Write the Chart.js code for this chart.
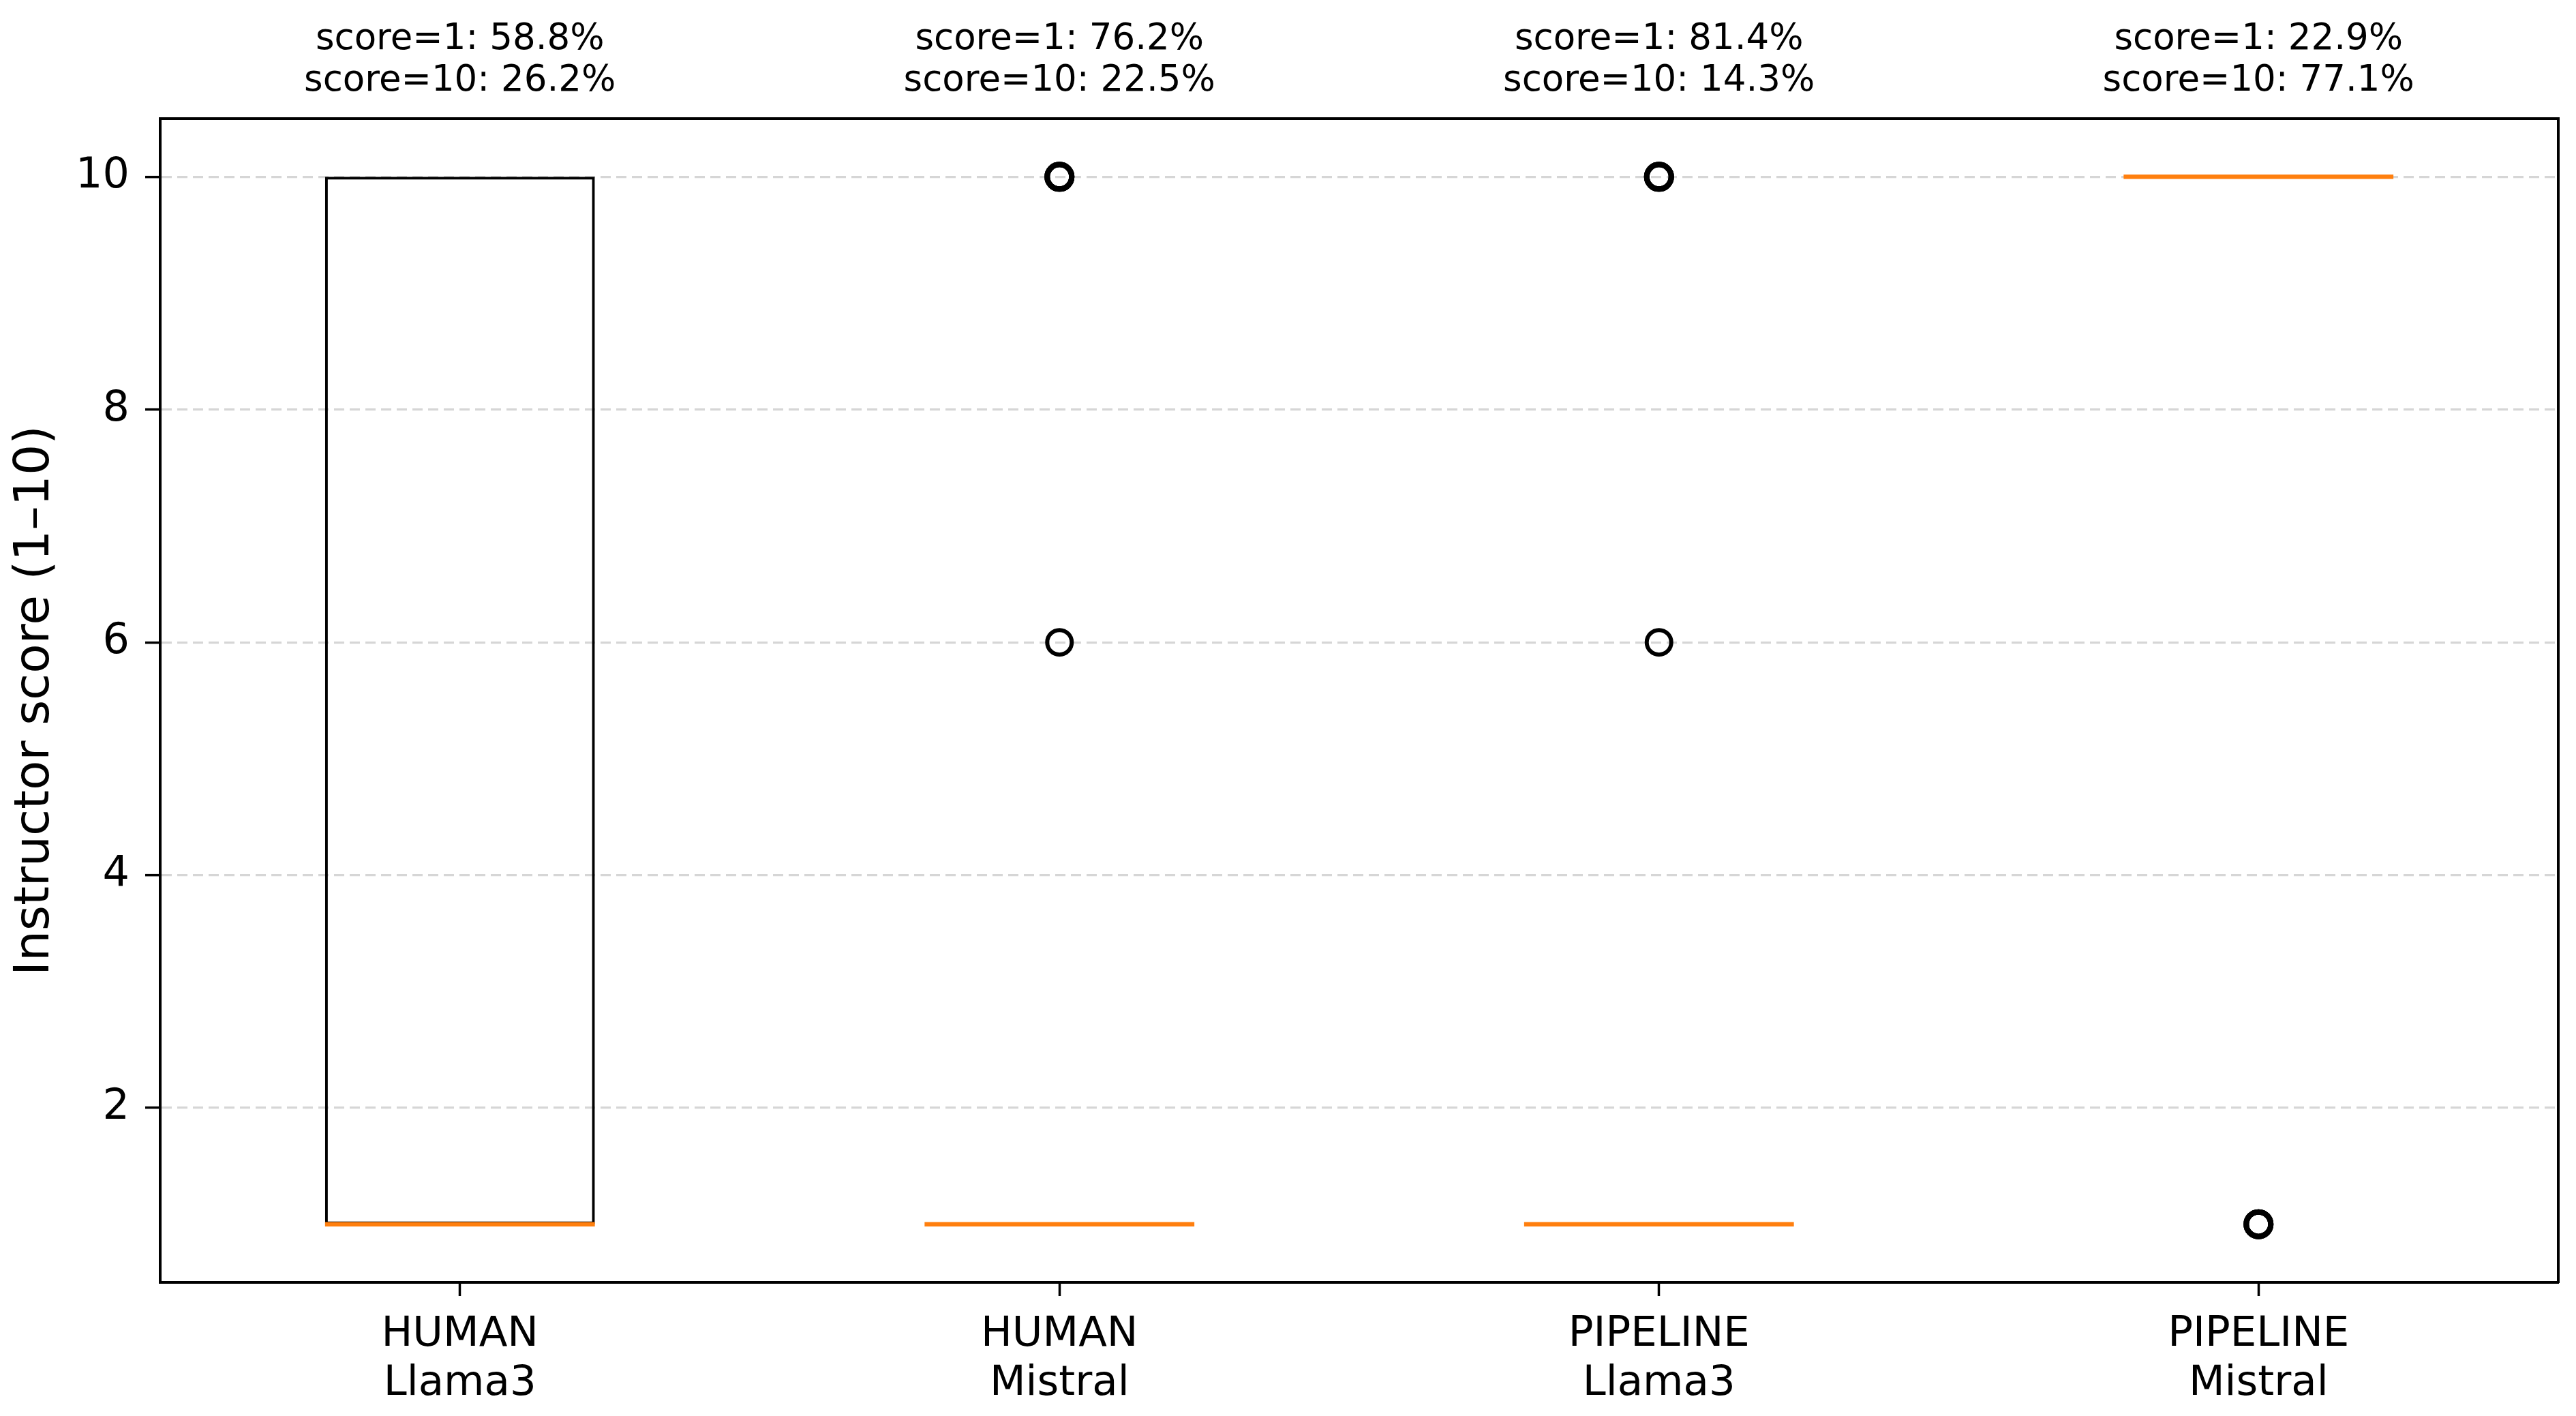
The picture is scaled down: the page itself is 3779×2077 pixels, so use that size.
<!DOCTYPE html>
<html>
<head>
<meta charset="utf-8">
<title>Instructor score</title>
<script src="https://cdn.jsdelivr.net/npm/chart.js@4.4.1/dist/chart.umd.min.js"></script>
<style>
  html, body { margin: 0; padding: 0; background: #fff; }
  canvas { display: block; }
</style>
</head>
<body>
<canvas id="scoreChart" width="3779" height="2077"></canvas>
<script>
// box plot stats per group
const groups = ['HUMAN Llama3', 'HUMAN Mistral', 'PIPELINE Llama3', 'PIPELINE Mistral'];
const q1 = [1, 1, 1, 10];
const median = [1, 1, 1, 10];
const q3 = [10, 1, 1, 10];
const outliers = [[], [6, 10, 10, 10], [6, 10, 10, 10], [1, 1, 1]];
const share1 = [58.8, 76.2, 81.4, 22.9];
const share10 = [26.2, 22.5, 14.3, 77.1];
const yTicks = [2, 4, 6, 8, 10];

const FONT = 'DejaVu Sans';
const BOX_WIDTH = 0.45;

const outlierPoints = outliers.flatMap((arr, i) => arr.map(v => ({ x: groups[i], y: v })));

// half the box width in pixels, so the median line spans the box
const halfBox = c => {
  const s = c.chart.scales.x;
  return Math.abs(s.getPixelForValue(1) - s.getPixelForValue(0)) * BOX_WIDTH / 2;
};

// stacked (repeated) fliers look heavier, like matplotlib overdraw
const flierWidth = c => {
  const p = outlierPoints[c.dataIndex];
  if (!p) return 6;
  const n = outlierPoints.filter(q => q.x === p.x && q.y === p.y).length;
  return n > 1 ? 8 : 6;
};

const ctx = document.getElementById('scoreChart').getContext('2d');
const scoreChart = new Chart(ctx, {
  type: 'bar',
  data: {
    labels: groups,
    datasets: [
      {
        type: 'line',
        label: 'outliers',
        data: outlierPoints,
        showLine: false,
        pointStyle: 'circle',
        pointRadius: 18,
        pointBorderWidth: flierWidth,
        pointBorderColor: '#000',
        pointBackgroundColor: 'rgba(0,0,0,0)',
        order: 1
      },
      {
        type: 'line',
        label: 'median',
        data: groups.map((g, i) => ({ x: g, y: median[i] })),
        showLine: false,
        pointStyle: 'line',
        pointRadius: halfBox,
        pointBorderWidth: 6.5,
        pointBorderColor: '#ff7f0e',
        order: 2
      },
      {
        label: 'box',
        data: groups.map((g, i) => [q1[i], q3[i]]),
        backgroundColor: 'rgba(0,0,0,0)',
        borderColor: '#000',
        borderWidth: 4,
        borderSkipped: false,
        barPercentage: BOX_WIDTH,
        categoryPercentage: 1,
        order: 3
      }
    ]
  },
  options: {
    responsive: false,
    devicePixelRatio: 1,
    animation: false,
    events: [],
    layout: { padding: 0 },
    plugins: {
      legend: { display: false },
      tooltip: { enabled: false }
    },
    scales: {
      x: {
        type: 'category',
        position: 'bottom',
        offset: true,
        afterFit: s => { s.height = 196; },
        grid: {
          display: true,
          drawOnChartArea: false,
          drawTicks: true,
          offset: false,
          tickLength: 20,
          color: '#000',
          tickColor: '#000',
          tickWidth: 3.5
        },
        border: { display: true, color: '#000', width: 4 },
        ticks: {
          color: '#000',
          font: { family: FONT, size: 61, lineHeight: 1.18 },
          padding: 21,
          maxRotation: 0,
          autoSkip: false,
          callback: (v, i) => groups[i].split(' ')
        }
      },
      x2: {
        type: 'category',
        position: 'top',
        offset: true,
        afterFit: s => { s.height = 174; },
        grid: { display: false, offset: false },
        border: { display: true, color: '#000', width: 4 },
        ticks: {
          color: '#000',
          font: { family: FONT, size: 53, lineHeight: 1.15 },
          padding: 16,
          maxRotation: 0,
          autoSkip: false,
          callback: (v, i) => ['score=1: ' + share1[i].toFixed(1) + '%', 'score=10: ' + share10[i].toFixed(1) + '%']
        }
      },
      y: {
        type: 'linear',
        position: 'left',
        min: 0.5,
        max: 10.5,
        afterFit: s => { s.width = 235; },
        afterBuildTicks: s => { s.ticks = yTicks.map(v => ({ value: v })); },
        grid: {
          color: '#d6d6d6',
          lineWidth: 3.3,
          tickColor: '#000',
          tickWidth: 3.5,
          tickLength: 22,
          tickBorderDash: []
        },
        border: { display: true, color: '#000', width: 4, dash: [15, 8] },
        ticks: {
          color: '#000',
          font: { family: FONT, size: 62 },
          padding: 23
        },
        title: {
          display: true,
          text: 'Instructor score (1–10)',
          color: '#000',
          font: { family: FONT, size: 71 },
          padding: { top: 10, bottom: 0 }
        }
      },
      y2: {
        type: 'linear',
        position: 'right',
        afterFit: s => { s.width = 25; },
        grid: { display: false },
        ticks: { display: false },
        border: { display: true, color: '#000', width: 4 }
      }
    }
  }
});
</script>
</body>
</html>
